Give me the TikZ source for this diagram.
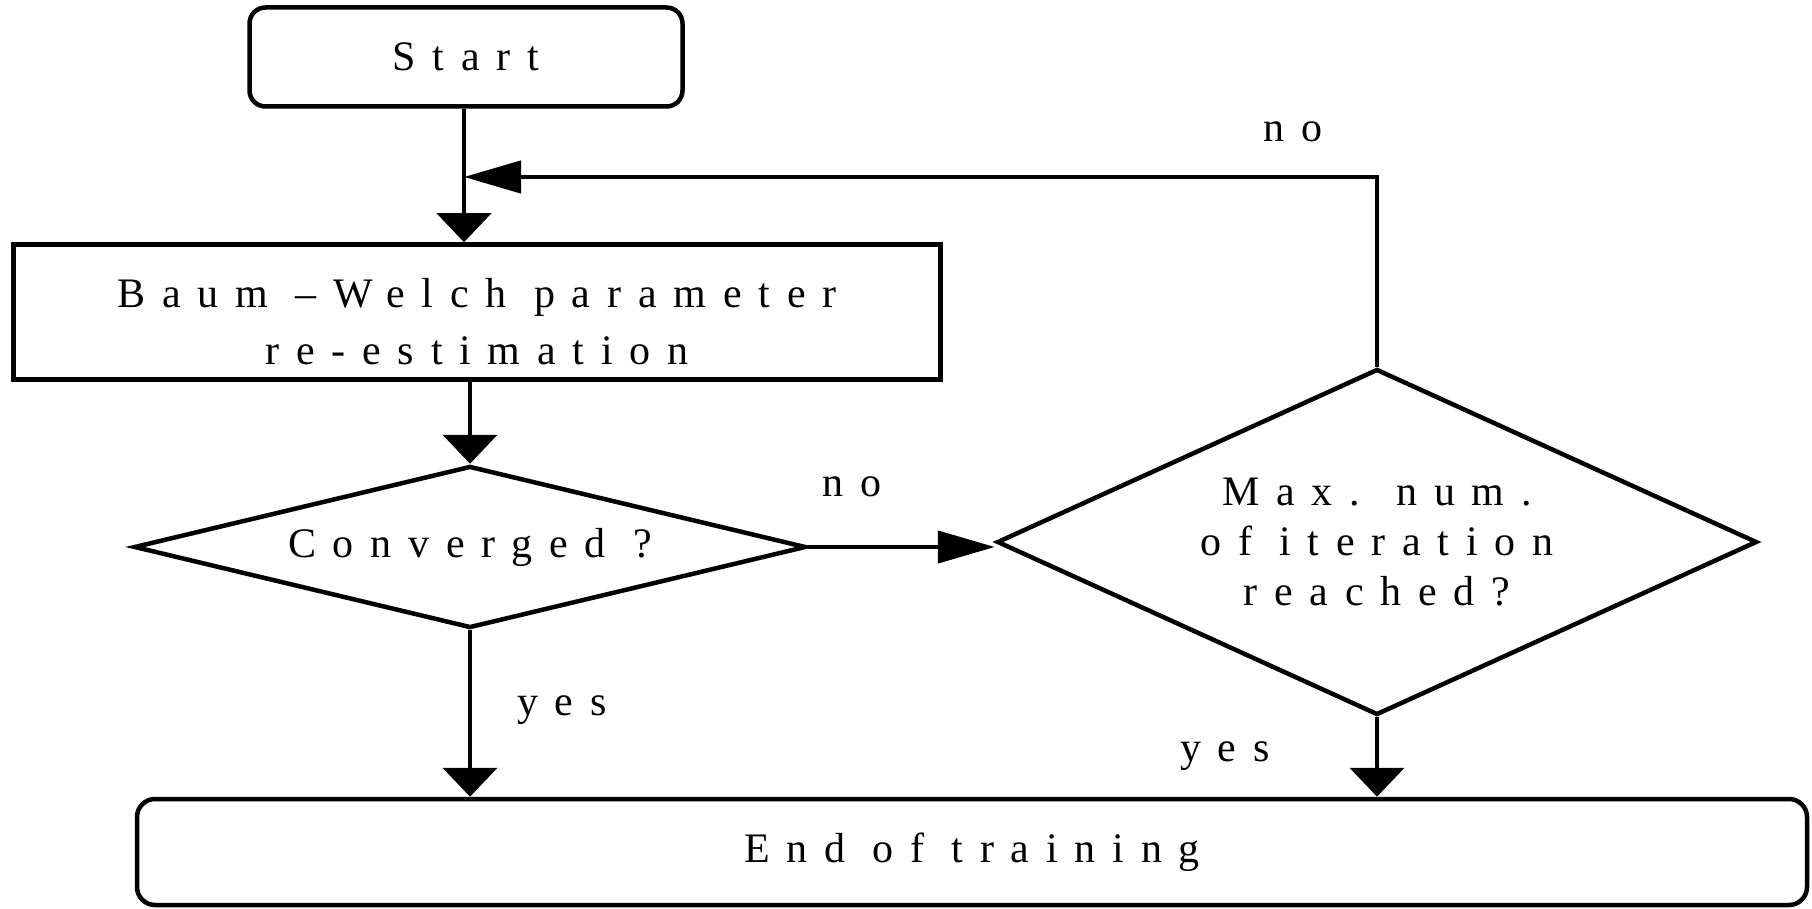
\documentclass[tikz,border=0pt]{standalone}
\usepackage{fontspec}
\setmainfont{Liberation Serif}[LetterSpace=40]
\usetikzlibrary{arrows.meta,shapes.geometric}
\begin{document}
\begin{tikzpicture}[x=1pt,y=-1pt, line width=4.5pt,
  every node/.style={font=\fontsize{42}{57}\selectfont},
  box/.style={draw, rectangle, inner sep=0pt, align=center},
  rbox/.style={box, rounded corners=16pt},
  dec/.style={draw, diamond, inner sep=0pt, align=center},
  vtip/.style={-{Triangle[length=29pt,width=54pt]}},
  htip/.style={-{Triangle[length=57pt,width=32pt]}},
  lbl/.style={inner sep=0pt}]
\useasboundingbox (0,0) rectangle (1812,909);

\node[rbox, minimum width=433pt, minimum height=99pt] (start) at (466,57) {Start};
\node[box, minimum width=927pt, minimum height=135pt] (baum) at (477,312) {\rule{0pt}{48pt}Baum –Welch parameter\\re-estimation};
\node[dec, aspect=4.15, minimum width=672pt, minimum height=162pt] (conv) at (470,547) {Converged ?};
\node[dec, aspect=2.2, minimum width=760pt, minimum height=346pt, font=\fontsize{42}{50}\selectfont] (max) at (1377,542) {Max. num.\\of iteration\\reached?};
\node[rbox, rounded corners=18pt, minimum width=1670pt, minimum height=106pt] (end) at (972,852) {End of training};

\coordinate (col) at (464,0);
\coordinate (fb) at (1378,177);

\draw[vtip] (start.south -| col) -- (baum.north -| col);
\draw[htip] (max.north) -- (max.north |- fb) -- (fb -| col);
\draw[vtip] (baum.south -| conv.north) -- (conv.north);
\draw[htip] (conv.east) -- (max.west |- conv.east);
\draw[vtip] (conv.south) -- (conv.south |- end.north);
\draw[vtip] (max.south) -- (max.south |- end.north);

\node[lbl] (no1) at (852,487) {no};
\node[lbl] (no2) at (1293,132) {no};
\node[lbl] (yes1) at (562,710) {yes};
\node[lbl] (yes2) at (1225,756) {yes};
\end{tikzpicture}
\end{document}
